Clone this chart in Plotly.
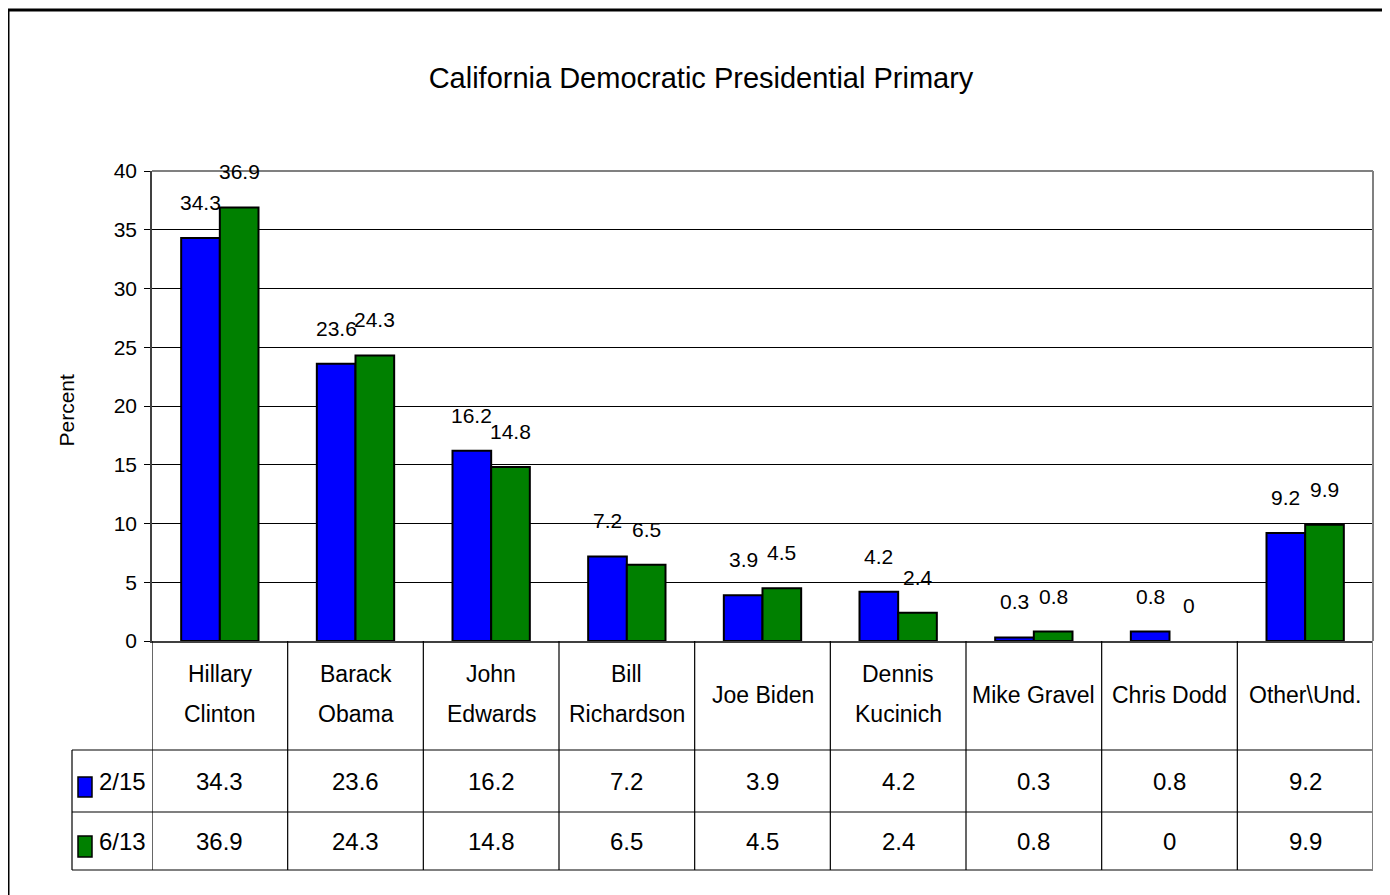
import plotly.graph_objects as go

# ---- data ----
categories = ["Hillary<br>Clinton", "Barack<br>Obama", "John<br>Edwards", "Bill<br>Richardson",
              "Joe Biden", "Dennis<br>Kucinich", "Mike Gravel", "Chris Dodd", "Other\\Und."]
series_names = ["2/15", "6/13"]
values_feb = [34.3, 23.6, 16.2, 7.2, 3.9, 4.2, 0.3, 0.8, 9.2]
values_jun = [36.9, 24.3, 14.8, 6.5, 4.5, 2.4, 0.8, 0, 9.9]
series_colors = ["#0000FF", "#008000"]
y_ticks = [0, 5, 10, 15, 20, 25, 30, 35, 40]

FONT = "Liberation Sans Narrow, Arial Narrow, Liberation Sans, Arial, sans-serif"

# page body has an 8px margin: build the figure 8px smaller and work in page pixels
OFF = 8
W, H = 1390 - OFF, 895 - OFF
PL, PR, PT, PB = 152, 1373, 171, 641      # plot area in page pixels
L, T = PL - OFF, PT - OFF
R, B = W - (PR - OFF), H - (PB - OFF)
PW, PH = W - L - R, H - T - B

def px_x(px):
    return (px - PL) / PW

def px_y(py):
    return (PB - py) / PH

n = len(categories)
xs = list(range(n))
all_series = [values_feb, values_jun]

fig = go.Figure()
for name, vals, col in zip(series_names, all_series, series_colors):
    fig.add_trace(go.Bar(
        x=xs, y=vals, name=name,
        marker=dict(color=col, line=dict(color="black",
                                         width=[2 if v > 0 else 0 for v in vals])),
        showlegend=False,
    ))

bar_w_px = PW / n * 0.57 / 2
annotations = []
# data labels above bars
for k, vals in enumerate(all_series):
    shift = -bar_w_px / 2 if k == 0 else bar_w_px / 2
    for i, v in enumerate(vals):
        annotations.append(dict(
            x=i, y=v, xref="x", yref="y", text=f"{v:g}", showarrow=False,
            xshift=shift, yshift=22, yanchor="bottom",
            font=dict(family=FONT, size=21, color="black"),
        ))

# table header (category names), lines spaced like the reference
for i, c in enumerate(categories):
    lines = c.split("<br>")
    if len(lines) == 1:
        ys = [695]
    else:
        ys = [674, 714]
    for txt, yy in zip(lines, ys):
        annotations.append(dict(
            x=i, y=px_y(yy), xref="x", yref="paper", text=txt, showarrow=False,
            yanchor="middle", font=dict(family=FONT, size=23, color="black"),
        ))

# table value rows
row_y = [px_y(781), px_y(841)]
for k, vals in enumerate(all_series):
    for i, v in enumerate(vals):
        annotations.append(dict(
            x=i, y=row_y[k], xref="x", yref="paper", text=f"{v:g}", showarrow=False,
            yanchor="middle", font=dict(family=FONT, size=24, color="black"),
        ))
    annotations.append(dict(
        x=px_x(97), y=row_y[k], xref="paper", yref="paper", text=series_names[k],
        showarrow=False, xanchor="left", yanchor="middle",
        font=dict(family=FONT, size=24, color="black"),
    ))

# axis title
annotations.append(dict(
    x=px_x(52), y=px_y(410), xref="paper", yref="paper", text="Percent",
    showarrow=False, textangle=-90, font=dict(family=FONT, size=21, color="black"),
))

shapes = []
# outer frame
shapes.append(dict(type="rect", xref="paper", yref="paper",
                   x0=px_x(8), x1=px_x(1388), y0=px_y(10), y1=px_y(910),
                   line=dict(color="black", width=3), layer="above"))
# table lines
y_hdr_bot = px_y(750)
y_row1_bot = px_y(812)
y_tab_bot = px_y(870)
x_tab_left = px_x(72)
for yy in [y_hdr_bot, y_row1_bot]:
    shapes.append(dict(type="line", xref="paper", yref="paper", x0=x_tab_left, x1=1,
                       y0=yy, y1=yy, line=dict(color="black", width=1.2)))
shapes.append(dict(type="line", xref="paper", yref="paper", x0=x_tab_left, x1=1,
                   y0=y_tab_bot, y1=y_tab_bot, line=dict(color="#808080", width=2)))
shapes.append(dict(type="line", xref="paper", yref="paper", x0=x_tab_left, x1=x_tab_left,
                   y0=y_hdr_bot, y1=y_tab_bot, line=dict(color="black", width=1.2)))
for i in range(n + 1):
    col = "#808080" if i == n else "black"
    wd = 2 if i == n else 1.2
    shapes.append(dict(type="line", xref="x", yref="paper", x0=i - 0.5, x1=i - 0.5,
                       y0=0, y1=y_tab_bot, line=dict(color=col, width=wd)))
# plot area border (gray)
shapes.append(dict(type="line", xref="paper", yref="paper", x0=0, x1=1, y0=1, y1=1,
                   line=dict(color="#808080", width=2)))
shapes.append(dict(type="line", xref="paper", yref="paper", x0=1, x1=1, y0=0, y1=1,
                   line=dict(color="#808080", width=2)))
# legend keys in table
key_rows = [(777, 797), (836, 857)]
for (ya, yb), col in zip(key_rows, series_colors):
    shapes.append(dict(type="rect", xref="paper", yref="paper",
                       x0=px_x(78), x1=px_x(92), y0=px_y(ya), y1=px_y(yb),
                       fillcolor=col, line=dict(color="black", width=1.5)))

fig.update_layout(
    width=W, height=H,
    margin=dict(l=L, r=R, t=T, b=B, pad=0),
    paper_bgcolor="white", plot_bgcolor="white",
    barmode="group", bargap=0.43, bargroupgap=0,
    title=dict(text="California Democratic Presidential Primary",
               x=(701 - OFF) / W, xanchor="center", y=1 - (78 - OFF) / H, yanchor="middle",
               font=dict(family=FONT, size=29, color="black")),
    font=dict(family=FONT, color="black"),
    annotations=annotations,
    shapes=shapes,
)
fig.update_xaxes(range=[-0.5, n - 0.5], showticklabels=False, showgrid=False,
                 showline=True, linecolor="#404040", linewidth=2, ticks="",
                 zeroline=False)
fig.update_yaxes(range=[0, 40], tickvals=y_ticks, showgrid=True, gridcolor="black",
                 gridwidth=1, showline=True, linecolor="#404040", linewidth=1.5,
                 ticks="outside", ticklen=6, tickcolor="black", zeroline=False,
                 ticklabelstandoff=3,
                 tickfont=dict(family=FONT, size=21, color="black"))

fig.write_html("out.html")
